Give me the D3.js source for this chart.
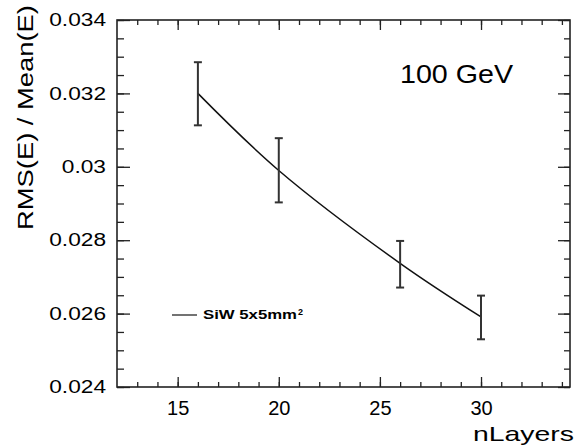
<!DOCTYPE html>
<html>
<head>
<meta charset="utf-8">
<script src="https://cdn.jsdelivr.net/npm/d3@7"></script>
<style>
  body { margin: 0; background: #fff; }
  svg { display: block; font-family: "Liberation Sans", Arial, sans-serif; }
</style>
</head>
<body>
<svg class="canvas" width="575" height="446"></svg>
<script>
// values
var nLayers = [16, 20, 26, 30];
var rmsOverMean = [0.0320, 0.0299, 0.02737, 0.02591];
var errHigh = [0.03285, 0.03078, 0.02798, 0.02649];
var errLow = [0.03113, 0.02903, 0.02671, 0.02530];

var xMajor = [15, 20, 25, 30];
var xMinor = d3.range(13, 35);
var yMajor = [0.024, 0.026, 0.028, 0.03, 0.032, 0.034];
var yMinor = d3.range(0, 21).map(function(i) { return 0.024 + i * 0.0005; });
var yLabels = ["0.024", "0.026", "0.028", "0.03", "0.032", "0.034"];

var frameLeft = 117, frameTop = 20, frameRight = 570, frameBottom = 387;

var svg = d3.select('.canvas');

var x = d3.scaleLinear().domain([12, 34.4]).range([frameLeft, frameRight]);
var y = d3.scaleLinear().domain([0.024, 0.034]).range([frameBottom, frameTop]);

// stretch text horizontally, the picture is wider than it is tall
function stretch(sel, k) {
    sel.each(function() {
        var w = this.getComputedTextLength();
        d3.select(this)
            .attr("textLength", w * k)
            .attr("lengthAdjust", "spacingAndGlyphs");
    });
}

function cleanAxis(g) {
    g.select(".domain").remove();
    g.selectAll("line").attr("stroke", "#222").attr("stroke-width", 1.3);
}

// bottom
svg.append("g")
    .attr("transform", "translate(0," + frameBottom + ")")
    .call(d3.axisBottom(x).tickValues(xMinor).tickSize(-5).tickFormat(""))
    .call(cleanAxis);
var xAxis = svg.append("g")
    .attr("transform", "translate(0," + frameBottom + ")")
    .call(d3.axisBottom(x).tickValues(xMajor).tickSize(-10).tickPadding(14).tickFormat(d3.format("d")))
    .call(cleanAxis);
xAxis.selectAll("text")
    .attr("fill", "#000")
    .attr("font-size", "20px")
    .attr("font-family", null);

// top
svg.append("g")
    .attr("transform", "translate(0," + frameTop + ")")
    .call(d3.axisTop(x).tickValues(xMinor).tickSize(-5).tickFormat(""))
    .call(cleanAxis);
svg.append("g")
    .attr("transform", "translate(0," + frameTop + ")")
    .call(d3.axisTop(x).tickValues(xMajor).tickSize(-10).tickFormat(""))
    .call(cleanAxis);

// left
svg.append("g")
    .attr("transform", "translate(" + frameLeft + ",0)")
    .call(d3.axisLeft(y).tickValues(yMinor).tickSize(-7).tickFormat(""))
    .call(cleanAxis);
var yAxis = svg.append("g")
    .attr("transform", "translate(" + frameLeft + ",0)")
    .call(d3.axisLeft(y).tickValues(yMajor).tickSize(-13).tickPadding(11)
        .tickFormat(function(d, i) { return yLabels[i]; }))
    .call(cleanAxis);
yAxis.selectAll("text")
    .attr("fill", "#000")
    .attr("font-size", "18px")
    .attr("font-family", null)
    .call(stretch, 1.26);

// right
svg.append("g")
    .attr("transform", "translate(" + frameRight + ",0)")
    .call(d3.axisRight(y).tickValues(yMinor).tickSize(-6).tickFormat(""))
    .call(cleanAxis);
svg.append("g")
    .attr("transform", "translate(" + frameRight + ",0)")
    .call(d3.axisRight(y).tickValues(yMajor).tickSize(-12).tickFormat(""))
    .call(cleanAxis);

// frame
svg.append("rect")
    .attr("x", frameLeft)
    .attr("y", frameTop)
    .attr("width", frameRight - frameLeft)
    .attr("height", frameBottom - frameTop)
    .attr("fill", "none")
    .attr("stroke", "#222")
    .attr("stroke-width", 1.6);

// curve
var points = nLayers.map(function(n, i) { return [n, rmsOverMean[i]]; });
var line = d3.line()
    .x(function(d) { return x(d[0]); })
    .y(function(d) { return y(d[1]); })
    .curve(d3.curveCatmullRom.alpha(0.5));

svg.append("path")
    .datum(points)
    .attr("d", line)
    .attr("fill", "none")
    .attr("stroke", "#111")
    .attr("stroke-width", 1.5);

// error bars
var bars = svg.selectAll(".err")
    .data(nLayers)
    .enter().append("g")
    .attr("class", "err")
    .attr("stroke", "#333")
    .attr("stroke-width", 2);

bars.append("line")
    .attr("x1", function(d) { return x(d); })
    .attr("x2", function(d) { return x(d); })
    .attr("y1", function(d, i) { return y(errHigh[i]); })
    .attr("y2", function(d, i) { return y(errLow[i]); });
bars.append("line")
    .attr("x1", function(d) { return x(d) - 4; })
    .attr("x2", function(d) { return x(d) + 4; })
    .attr("y1", function(d, i) { return y(errHigh[i]); })
    .attr("y2", function(d, i) { return y(errHigh[i]); });
bars.append("line")
    .attr("x1", function(d) { return x(d) - 4; })
    .attr("x2", function(d) { return x(d) + 4; })
    .attr("y1", function(d, i) { return y(errLow[i]); })
    .attr("y2", function(d, i) { return y(errLow[i]); });

// legend
svg.append("line")
    .attr("x1", 172).attr("x2", 197)
    .attr("y1", 315).attr("y2", 315)
    .attr("stroke", "#444")
    .attr("stroke-width", 1.5);
svg.append("text")
    .attr("x", 203).attr("y", 319)
    .attr("font-size", "12px")
    .attr("font-weight", "bold")
    .attr("textLength", 94)
    .attr("lengthAdjust", "spacingAndGlyphs")
    .text("SiW 5x5mm");
svg.append("text")
    .attr("x", 298).attr("y", 315)
    .attr("font-size", "9px")
    .attr("font-weight", "bold")
    .text("2");

// labels
svg.append("text")
    .attr("x", 400).attr("y", 83)
    .attr("font-size", "25.5px")
    .attr("textLength", 113)
    .attr("lengthAdjust", "spacingAndGlyphs")
    .text("100 GeV");

svg.append("text")
    .attr("x", 574).attr("y", 441)
    .attr("text-anchor", "end")
    .attr("font-size", "21px")
    .attr("textLength", 101)
    .attr("lengthAdjust", "spacingAndGlyphs")
    .text("nLayers");

svg.append("text")
    .attr("transform", "translate(33,230)rotate(-90)")
    .attr("font-size", "22px")
    .attr("textLength", 225)
    .attr("lengthAdjust", "spacingAndGlyphs")
    .text("RMS(E) / Mean(E)");
</script>
</body>
</html>
